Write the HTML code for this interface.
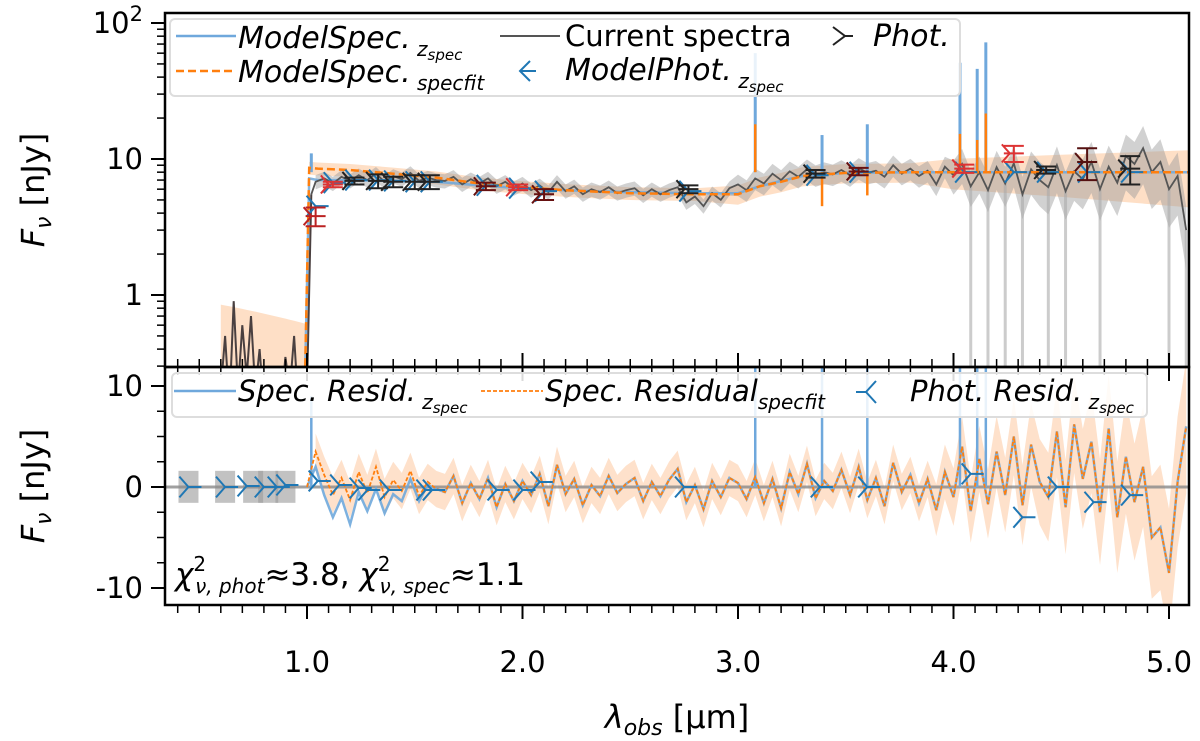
<!DOCTYPE html>
<html><head><meta charset="utf-8"><style>
body{margin:0;background:#fff;}
svg{display:block;font-family:"DejaVu Sans","Liberation Sans",sans-serif;}
</style></head><body>
<svg id="c" width="1200" height="741" viewBox="0 0 1200 741"></svg>
<script>
// ---------- data ----------
const obsStart = 1.04, obsStep = 0.04;
const obsFlux = [6.8,7.2,6.6,7.4,6.9,7.6,7.0,7.8,6.8,7.5,7.1,7.9,6.9,7.3,7.0,
6.9,7.4,6.5,7.1,6.6,7.2,6.3,6.8,6.1,6.6,
5.9,6.4,5.7,6.8,5.8,6.3,5.5,6.0,5.7,6.2,5.6,5.9,
6.1,5.4,6.0,5.5,5.9,6.2,4.8,5.3,4.5,5.6,5.0,6.1,
6.5,5.9,7.2,6.6,7.8,7.0,8.1,7.4,8.4,7.6,8.0,7.7,
8.3,7.6,8.6,7.9,8.2,7.4,9.0,7.8,8.5,7.5,8.2,6.5,
8.8,7.6,9.2,6.3,8.0,5.9,8.7,6.6,9.3,5.5,8.4,7.0,
6.2,9.0,5.8,8.1,7.1,9.5,6.0,8.8,6.7,10.5,9.2,12.0,8.0,9.5,6.0,7.5,3.0];
const preWl = [0.60,0.62,0.64,0.66,0.68,0.70,0.72,0.74,0.76,0.78,0.80,0.82,0.84,0.86,0.88,0.90,0.92,0.94,0.96,0.98,1.00,1.02];
const preFlux = [0.2,0.5,0.15,0.9,0.2,0.6,0.25,0.7,0.2,0.4,0.15,0.3,0.2,0.25,0.15,0.35,0.2,0.5,0.15,0.3,0.2,5.5];
const modelWl = [0.99,1.01,1.05,1.2,1.4,1.6,1.8,2.0,2.2,2.5,2.8,3.0,3.1,3.2,3.3,3.5,3.8,4.0,4.5,5.1];
const modelFit = [0.2,8.6,8.5,8.3,7.8,7.3,6.6,6.2,5.9,5.6,5.5,5.5,6.3,6.8,7.5,7.9,8.0,8.0,8.0,8.0];
const modelZ   = [0.2,7.2,7.0,7.0,6.9,6.8,6.4,6.1,5.9,5.7,5.6,5.6,6.3,6.9,7.5,7.9,8.0,8.0,8.0,8.0];
const lineWl = [1.02,3.08,3.39,3.60,4.03,4.11,4.15];
const lineFlux = [11,60,15,18,51,46,72];
const photWl   = [1.04,1.12,1.22,1.33,1.40,1.50,1.57,1.83,1.98,2.10,2.77,3.36,3.56,4.05,4.28,4.43,4.62,4.82];
const photFlux = [3.8,6.5,6.9,6.9,6.8,6.8,6.8,6.3,6.2,5.5,6.0,7.8,8.1,8.5,11,8.3,9.5,8.5];
const photErr  = [0.6,0.3,0.4,0.8,0.6,0.8,0.8,0.4,0.3,0.5,0.4,0.5,0.5,0.6,1.5,0.5,2.5,2.0];
const photCol  = ["#b22","#d33","#222","#222","#222","#222","#222","#611","#d33","#611","#222","#222","#611","#d33","#d33","#222","#511","#222"];
const mphotFlux = [4.5,6.7,7.0,7.0,6.9,6.8,6.8,6.4,6.1,5.8,5.8,7.6,8.0,8.0,8.0,8.0,8.0,8.0];
const resid = [3.5,1.2,-0.8,0.9,-1.3,1.5,-0.6,2.0,-1.0,0.7,-0.4,1.6,-0.9,0.5,-0.2,
-0.5,1.1,-1.6,0.4,-1.2,0.9,-2.0,0.3,-1.4,0.6,
-0.8,1.3,-1.9,2.2,-0.7,0.8,-1.8,0.2,-0.9,1.1,-0.6,0.3,
0.9,-1.4,0.5,-0.9,0.7,1.8,-1.5,0.2,-2.2,0.6,-1.0,0.9,
0.4,-1.2,1.0,-1.6,0.8,-2.1,1.5,-0.7,2.3,-1.1,0.6,-0.4,
1.7,-0.8,2.0,-1.3,0.9,-1.9,2.4,-0.5,1.2,-1.6,0.8,-2.3,
1.5,-1.0,4.0,-2.4,2.8,-1.7,3.5,-0.8,5.0,-1.8,4.2,0.5,
-1.0,5.5,-2.0,6.2,0.8,4.5,-2.5,5.8,-3.0,3.0,-1.5,2.0,-5.0,-4.0,-8.5,0.5,6.0];
const residZOffset = [-1.5,-2.0,-2.2,-2.0,-2.4,-2.0,-1.8,-2.2,-1.6,-1.4,-1.0,-0.8,-0.5,-0.3];
const residSpikeWl = [1.02,3.08,3.39,3.60,4.03,4.11,4.15];
const residSpikeVal = [9,60,12,12,45,40,60];
const presWl = [0.45,0.62,0.72,0.80,0.86,0.90,1.05,1.15,1.24,1.28,1.38,1.55,1.58,1.88,2.00,2.08,2.75,3.38,3.60,4.08,4.32,4.48,4.65,4.82];
const presVal = [0,0,0.1,0,0,0.2,0.6,0.2,-0.1,-0.3,-0.3,-0.3,-0.3,-0.3,-0.3,0.5,0,0,0,1.3,-3,0,-1.5,-0.8];
const xTicks = [1,2,3,4,5];
const xTickLabels = ["1.0","2.0","3.0","4.0","5.0"];
const topTicks = [1,10,100];
const botTicks = [10,0,-10];
const botTickLabels = ["10","0","-10"];

// ---------- axes ----------
const L=165, R=1189, T1=13, B1=367, T2=367, B2=605;
const x = w => 307 + (w-1)*215.5;
const yT = v => 295 - Math.log10(Math.max(v,1e-3))*136;
const yB = v => 487 - v*10.1;
const svg = document.getElementById('c');
const NS='http://www.w3.org/2000/svg';
function el(tag, attrs, parent){const e=document.createElementNS(NS,tag);for(const k in attrs)e.setAttribute(k,attrs[k]);(parent||svg).appendChild(e);return e;}
const obsWl = obsFlux.map((_,i)=>obsStart+i*obsStep);
const pts = (xs,ys,fy)=>xs.map((w,i)=>x(w).toFixed(1)+','+fy(ys[i]).toFixed(1)).join(' ');

el('defs',{}).innerHTML='<clipPath id="cp1"><rect x="165" y="13" width="1024" height="354"/></clipPath><clipPath id="cp2"><rect x="165" y="367" width="1024" height="238"/></clipPath>';
const g1 = el('g',{'clip-path':'url(#cp1)'});


const g2 = el('g',{'clip-path':'url(#cp2)'});



function band(xs, lo, hi, fy, fill, op, g, name){
  const up = xs.map((w,i)=>x(w)+','+fy(hi[i])).join(' ');
  const dn = xs.map((w,i)=>[w,i]).reverse().map(([w,i])=>x(w)+','+fy(lo[i])).join(' ');
  const p = el('polygon',{points:up+' '+dn,fill:fill,'fill-opacity':op},g);
  
  
}
const relErr = w => w<3 ? 0.12 : (w<4 ? 0.18 : 0.28+(w-4)*0.2);
const mbWl = modelWl.slice(1);
band(mbWl, modelFit.slice(1).map((v,i)=>v*(1-relErr(mbWl[i])*0.9)), modelFit.slice(1).map((v,i)=>v*(1+relErr(mbWl[i])*0.9)), yT, '#fdc9a0', 0.6, g1, 'model-uncertainty-band');
band(preWl.slice(0,21), preWl.slice(0,21).map(()=>0.01), preWl.slice(0,21).map((w,i)=>0.85-i*0.012), yT, '#fdc9a0', 0.6, g1, 'model-band-prebreak');
band(obsWl, obsFlux.map((v,i)=>v*(1-relErr(obsWl[i]))), obsFlux.map((v,i)=>v*(1+relErr(obsWl[i]))), yT, '#999', 0.45, g1, 'spectrum-error-band');
obsWl.forEach((w,i)=>{ if(w>4.05 && obsFlux[i]<6.7){const l=el('line',{x1:x(w),x2:x(w),y1:yT(obsFlux[i]),y2:B1,stroke:'#aaa','stroke-width':3,'stroke-opacity':0.6},g1);}});
let pl=el('polyline',{points:pts(modelWl,modelZ,yT),fill:'none',stroke:'#6fa8dc','stroke-width':2.5,'stroke-opacity':0.85},g1);


lineWl.forEach((w,i)=>{const l=el('line',{x1:x(w),x2:x(w),y1:yT(8),y2:yT(lineFlux[i]),stroke:'#6fa8dc','stroke-width':3},g1);});
pl=el('polyline',{points:pts(preWl,preFlux,yT),fill:'none',stroke:'#4a4040','stroke-width':2},g1);


pl=el('polyline',{points:x(1.02)+','+yT(5.5)+' '+pts(obsWl,obsFlux,yT),fill:'none',stroke:'#555','stroke-width':1.8},g1);


pl=el('polyline',{points:pts(modelWl,modelFit,yT),fill:'none',stroke:'#ff7f0e','stroke-width':2.5,'stroke-dasharray':'8,4'},g1);


lineWl.forEach((w,i)=>{ if(i>0){const l=el('line',{x1:x(w),x2:x(w),y1:yT(8),y2:yT(lineFlux[i]*0.3),stroke:'#ff7f0e','stroke-width':2.5},g1);}});

function tri(cx,cy,dir,col,s,g,name){
  const gg=el('g',{stroke:col,'stroke-width':2,fill:'none'},g);
  
  
  el('path',{d:`M${cx+s},${cy}H${cx} M${cx},${cy} L${cx-s*0.7},${cy-s*0.8} M${cx},${cy} L${cx-s*0.7},${cy+s*0.8}`},gg);
}
photWl.forEach((w,i)=>tri(x(w),yT(mphotFlux[i]),-1,'#1f77b4',13,g1,'model-phot-marker'));
photWl.forEach((w,i)=>{
  const cx=x(w), y0=yT(photFlux[i]-photErr[i]), y1=yT(photFlux[i]+photErr[i]);
  const gg=el('g',{stroke:photCol[i],'stroke-width':2},g1);
  
  
  el('line',{x1:cx,x2:cx,y1:y0,y2:y1},gg);
  el('line',{x1:cx-10,x2:cx+10,y1:y0,y2:y0},gg);
  el('line',{x1:cx-10,x2:cx+10,y1:y1,y2:y1},gg);
  el('line',{x1:cx-10,x2:cx+10,y1:yT(photFlux[i]),y2:yT(photFlux[i])},gg);
  const m=el('path',{d:`M${cx-12},${yT(photFlux[i])-9} L${cx-4},${yT(photFlux[i])} L${cx-12},${yT(photFlux[i])+9}`,fill:'none'},gg);
  
  
});

const rErr = w => w<3.9 ? 1.8 : 2.5+(w-3.9)*3.5;
band(obsWl, resid.map((v,i)=>v-rErr(obsWl[i])), resid.map((v,i)=>v+rErr(obsWl[i])), yB, '#fdc9a0', 0.55, g2, 'residual-band');
[0.45,0.62,0.75,0.82,0.9].forEach(w=>{const r=el('rect',{x:x(w)-10,y:yB(1.6),width:20,height:32,fill:'#999','fill-opacity':0.6},g2);});
let zl=el('line',{x1:L,x2:R,y1:yB(0),y2:yB(0),stroke:'#888','stroke-width':3,'stroke-opacity':0.8},g2);


const residZ = resid.map((v,i)=> v + (i<residZOffset.length?residZOffset[i]:0));
pl=el('polyline',{points:x(1.0)+','+yB(0)+' '+pts(obsWl,residZ,yB),fill:'none',stroke:'#6fa8dc','stroke-width':2.5,'stroke-opacity':0.9},g2);


residSpikeWl.forEach((w,i)=>{const l=el('line',{x1:x(w),x2:x(w),y1:yB(0),y2:yB(residSpikeVal[i]),stroke:'#6fa8dc','stroke-width':2.5},g2);});
pl=el('polyline',{points:x(1.0)+','+yB(0)+' '+pts(obsWl,resid,yB),fill:'none',stroke:'#ff7f0e','stroke-width':1.8,'stroke-dasharray':'4,2'},g2);


presWl.forEach((w,i)=>tri(x(w),yB(presVal[i]),-1,'#1f77b4',13,g2,'phot-resid-marker'));

[[T1,B1],[T2,B2]].forEach(([t,b],k)=>{const r=el('rect',{x:L,y:t,width:R-L,height:b-t,fill:'none',stroke:'#000','stroke-width':2.5});});
for(let k=4;k<=50;k++){const w=k/10; const major=(k%10===0); const X=x(w); if(X<L||X>R) continue;
  const len=major?14:8;
  [[B2,B2+len],[T2,T2+len],[B1,B1-len]].forEach(([a,b])=>{const t=el('line',{x1:X,x2:X,y1:a,y2:b,stroke:'#000','stroke-width':major?2:1.5});});
}
xTicks.forEach((w,i)=>{const t=el('text',{x:x(w),y:672,'font-size':29,'text-anchor':'middle'});t.textContent=xTickLabels[i];});
for(let d=-1;d<=2;d++){for(let m=1;m<10;m++){const v=m*Math.pow(10,d);const Y=yT(v);if(Y<T1||Y>B1)continue;
  const t=el('line',{x1:L,x2:L-(m===1?14:8),y1:Y,y2:Y,stroke:'#000','stroke-width':m===1?2:1.5});}}
topTicks.forEach(v=>{const t=el('text',{x:143,y:yT(v)+10,'font-size':29,'text-anchor':'end'});
  if(v===100){t.innerHTML='10<tspan dy="-12" font-size="21">2</tspan>';}else t.textContent=String(v);
  });
for(let v=-10;v<=10;v+=2.5){const Y=yB(v);const major=(v%10===0);const t=el('line',{x1:L,x2:L-(major?14:8),y1:Y,y2:Y,stroke:'#000','stroke-width':major?2:1.5});}
botTicks.forEach((v,i)=>{const t=el('text',{x:143,y:yB(v)+10,'font-size':29,'text-anchor':'end'});t.textContent=botTickLabels[i];});
</script>
<svg width="1200" height="741" style="position:absolute;left:0;top:0" font-family="DejaVu Sans, Liberation Sans, sans-serif">
 <g><text x="677" y="728" font-size="32" text-anchor="middle"><tspan font-style="italic">λ</tspan><tspan font-style="italic" font-size="22" dy="7">obs</tspan><tspan dy="-7"> [μm]</tspan></text></g>
 <g><text transform="translate(44,190) rotate(-90)" font-size="32" text-anchor="middle"><tspan font-style="italic">F</tspan><tspan font-style="italic" font-size="22" dy="7">ν</tspan><tspan dy="-7"> [nJy]</tspan></text></g>
 <g><text transform="translate(44,486) rotate(-90)" font-size="32" text-anchor="middle"><tspan font-style="italic">F</tspan><tspan font-style="italic" font-size="22" dy="7">ν</tspan><tspan dy="-7"> [nJy]</tspan></text></g>
 <g>
  <rect x="170" y="19" width="790" height="77" rx="5" fill="#fff" fill-opacity="0.85" stroke="#ddd" stroke-width="2"/>
  <line x1="176" y1="36" x2="236" y2="36" stroke="#6fa8dc" stroke-width="2.5"/>
  <text x="238" y="48" font-size="30" font-style="italic">ModelSpec.<tspan font-size="20" dy="8"> z</tspan><tspan font-size="15" dy="4">spec</tspan></text>
  <line x1="176" y1="71" x2="236" y2="71" stroke="#ff7f0e" stroke-width="2.5" stroke-dasharray="8,4"/>
  <text x="238" y="82" font-size="30" font-style="italic">ModelSpec.<tspan font-size="20" dy="8"> specfit</tspan></text>
  <line x1="500" y1="36" x2="560" y2="36" stroke="#555" stroke-width="2"/>
  <text x="565" y="46" font-size="29">Current spectra</text>
  <path d="M530,61 L520,71 L530,81 M520,71 H536" stroke="#1f77b4" stroke-width="2" fill="none"/>
  <text x="565" y="80" font-size="30" font-style="italic">ModelPhot.<tspan font-size="20" dy="8"> z</tspan><tspan font-size="15" dy="4">spec</tspan></text>
  <path d="M833,27 L845,36 L833,45 M845,36 H853" stroke="#222" stroke-width="2" fill="none"/>
  <text x="873" y="46" font-size="30" font-style="italic">Phot.</text>
 </g>
 <g>
  <rect x="172" y="373" width="975" height="44" rx="5" fill="#fff" fill-opacity="0.85" stroke="#ddd" stroke-width="2"/>
  <line x1="174" y1="391" x2="236" y2="391" stroke="#6fa8dc" stroke-width="2.5"/>
  <text x="238" y="401" font-size="29" font-style="italic">Spec. Resid.<tspan font-size="20" dy="8"> z</tspan><tspan font-size="15" dy="4">spec</tspan></text>
  <line x1="481" y1="391" x2="543" y2="391" stroke="#ff7f0e" stroke-width="1.8" stroke-dasharray="4,2"/>
  <text x="545" y="401" font-size="29" font-style="italic">Spec. Residual<tspan font-size="20" dy="8">specfit</tspan></text>
  <path d="M876,381 L866,392 L876,403 M866,392 H856" stroke="#1f77b4" stroke-width="2" fill="none"/>
  <text x="910" y="401" font-size="29" font-style="italic">Phot. Resid.<tspan font-size="20" dy="8"> z</tspan><tspan font-size="15" dy="4">spec</tspan></text>
 </g>
 <text x="175" y="585" font-size="31"><tspan font-style="italic">χ</tspan><tspan font-size="20" dy="-14">2</tspan><tspan font-size="20" font-style="italic" dx="-11" dy="22">ν, phot</tspan><tspan dy="-8">≈3.8, </tspan><tspan font-style="italic">χ</tspan><tspan font-size="20" dy="-14">2</tspan><tspan font-size="20" font-style="italic" dx="-11" dy="22">ν, spec</tspan><tspan dy="-8">≈1.1</tspan></text>
</svg>
</body></html>
